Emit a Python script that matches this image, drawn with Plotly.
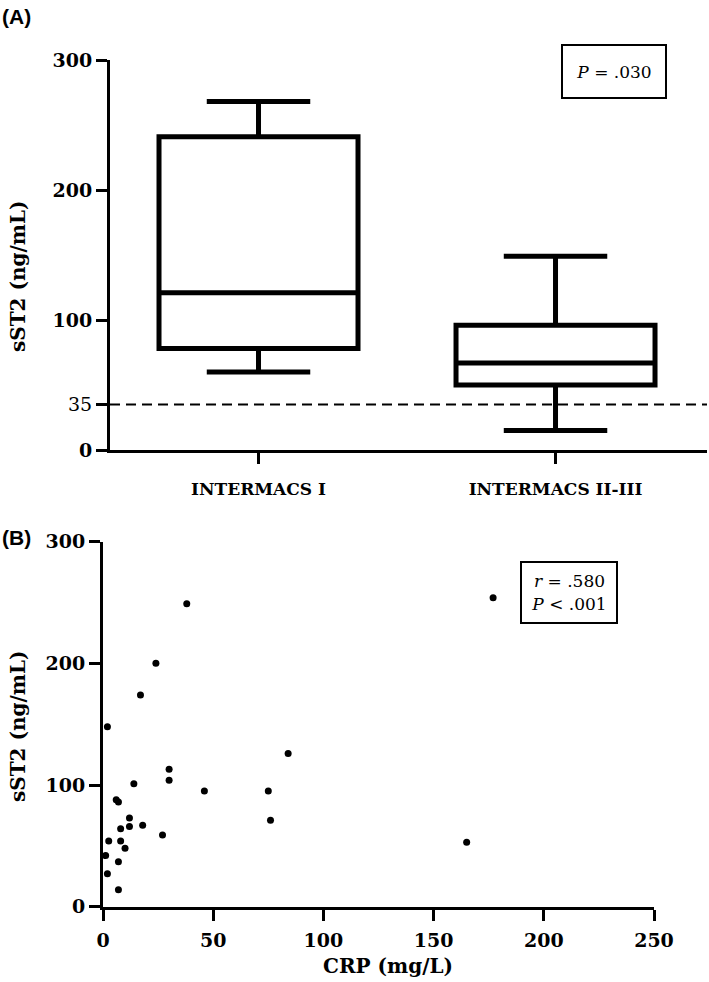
import plotly.graph_objects as go

# ---------------- data ----------------
# Panel A: box plot summaries
groups = ["INTERMACS I", "INTERMACS II-III"]
lower_whisker = [60, 15]
q1_vals = [78, 50]
median_vals = [121, 67]
q3_vals = [241, 96]
upper_whisker = [268, 149]
cutoff = 35
yA_ticks = [0, 35, 100, 200, 300]
yA_ticklabels = ["<b>0</b>", "35", "<b>100</b>", "<b>200</b>", "<b>300</b>"]

# Panel B: scatter CRP vs sST2
crp = [38, 24, 17, 2, 30, 30, 14, 46, 75, 84, 76, 6, 7, 12, 12, 18, 8, 27,
       2.6, 8, 10, 1.2, 7, 2, 7, 177, 165]
sst2 = [249, 200, 174, 148, 113, 104, 101, 95, 95, 126, 71, 88, 86, 73, 66,
        67, 64, 59, 54, 54, 48, 42, 37, 27, 14, 254, 53]
xB_ticks = [0, 50, 100, 150, 200, 250]
yB_ticks = [0, 100, 200, 300]

W, H = 709, 982
SERIF = "DejaVu Serif"

fig = go.Figure()

fig.add_trace(go.Box(
    x=groups, q1=q1_vals, median=median_vals, q3=q3_vals,
    lowerfence=lower_whisker, upperfence=upper_whisker,
    width=0.67, whiskerwidth=0.52,
    line=dict(color="black", width=5), fillcolor="white",
    boxpoints=False, showlegend=False, hoverinfo="skip",
    xaxis="x", yaxis="y",
))

fig.add_trace(go.Scatter(
    x=crp, y=sst2, mode="markers",
    marker=dict(color="black", size=7),
    showlegend=False, xaxis="x2", yaxis="y2",
))

fig.add_shape(type="line", xref="x domain", yref="y", x0=0, x1=1,
              y0=cutoff, y1=cutoff,
              line=dict(color="black", width=2, dash="10px,6px"))

axis_common = dict(showline=True, linecolor="black", linewidth=3,
                   ticks="outside", ticklen=11, tickwidth=3, tickcolor="black",
                   showgrid=False, zeroline=False, automargin=False,
                   tickfont=dict(family=SERIF, size=19, color="black"))

fig.update_layout(
    template="none",
    width=W, height=H,
    margin=dict(l=0, r=0, t=0, b=0, pad=0, autoexpand=False),
    paper_bgcolor="white", plot_bgcolor="white",
    xaxis=dict(domain=[110 / W, 707 / W], type="category",
               range=[-0.5, 1.51], anchor="y",
               tickvals=groups,
               ticktext=["<b>" + g + "</b>" for g in groups],
               ticklabelstandoff=11,
               **{**axis_common, "tickfont": dict(family=SERIF, size=17, color="black")}),
    yaxis=dict(domain=[1 - 450 / H, 1 - 60 / H], range=[0, 300], anchor="x",
               tickvals=yA_ticks, ticktext=yA_ticklabels, **axis_common),
    xaxis2=dict(domain=[103 / W, 654 / W], range=[0, 250], anchor="y2",
                tickvals=xB_ticks, ticktext=["<b>%d</b>" % v for v in xB_ticks],
                ticklabelstandoff=3,
                **axis_common),
    yaxis2=dict(domain=[1 - 906.7 / H, 1 - 541.7 / H], range=[0, 300], anchor="x2",
                tickvals=yB_ticks, ticktext=["<b>%d</b>" % v for v in yB_ticks],
                **axis_common),
)

def note(text, xpx, ypx, font, **kw):
    fig.add_annotation(text=text, x=xpx / W, y=1 - ypx / H, xref="paper", yref="paper",
                       xanchor=kw.pop("xanchor", "center"), yanchor="middle",
                       showarrow=False, font=font, **kw)

title_font = dict(family=SERIF, size=20, color="black")
note("<b>sST2 (ng/mL)</b>", 18, 277, title_font, textangle=-90)
note("<b>sST2 (ng/mL)</b>", 18, 727, title_font, textangle=-90)
note("<b>CRP (mg/L)</b>", 388, 966, title_font)

label_font = dict(family="Liberation Sans", size=21, color="black")
note("<b>(A)</b>", 0, 17, label_font, xanchor="left")
note("<b>(B)</b>", 0, 537, label_font, xanchor="left")

box_font = dict(family=SERIF, size=17, color="black")
note("<i>P</i> = .030", 614, 71.5, box_font,
     width=102, height=51, bordercolor="black", borderwidth=2, borderpad=0,
     bgcolor="white")
note("<i>r</i> = .580<br><i>P</i> &lt; .001", 569, 592.5, box_font,
     width=94, height=59, bordercolor="black", borderwidth=2, borderpad=0,
     bgcolor="white")

fig.write_html("out.html", config={"displayModeBar": False},
               post_script="document.body.style.margin='0';")
